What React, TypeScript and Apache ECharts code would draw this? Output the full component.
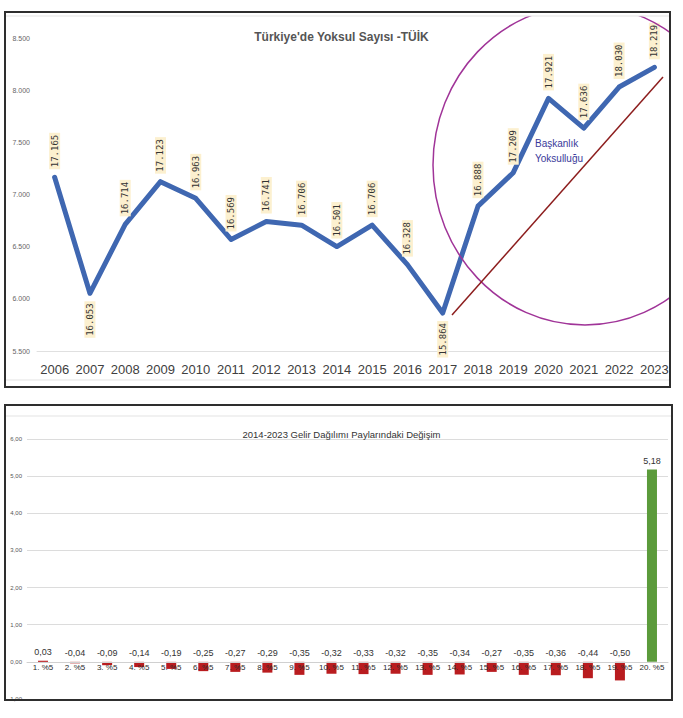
import React, { useEffect, useRef } from "react";
import * as echarts from "echarts";

// ---- Top chart data: Türkiye'de Yoksul Sayısı (milyon) ----
const years = ["2006","2007","2008","2009","2010","2011","2012","2013","2014","2015","2016","2017","2018","2019","2020","2021","2022","2023"];
const poorCount = [17.165,16.053,16.714,17.123,16.963,16.569,16.741,16.706,16.501,16.706,16.328,15.864,16.888,17.209,17.921,17.636,18.030,18.219];
const labelBelowYears = ["2007","2017"];

// ---- Bottom chart data: 2014-2023 Gelir Dağılımı Paylarındaki Değişim ----
const groups = ["1. %5","2. %5","3. %5","4. %5","5. %5","6. %5","7. %5","8. %5","9. %5","10. %5","11. %5","12. %5","13. %5","14. %5","15. %5","16. %5","17. %5","18. %5","19. %5","20. %5"];
const shareChange = [0.03,-0.04,-0.09,-0.14,-0.19,-0.25,-0.27,-0.29,-0.35,-0.32,-0.33,-0.32,-0.35,-0.34,-0.27,-0.35,-0.36,-0.44,-0.50,5.18];

const RED = "#b91c1f";
const GREEN = "#5b9b3b";
const LINE_BLUE = "#3f67b1";

const BOTTOM_MIN = -1;
const BOTTOM_MAX = 6;
const BOTTOM_TOP = 439;
const BOTTOM_BOTTOM = 699;

export default function App() {
  const ref = useRef<HTMLDivElement>(null);
  useEffect(() => {
    if (!ref.current) return;
    const chart = echarts.init(ref.current, undefined, { renderer: "svg" });

    const lineData = poorCount.map((v, i) =>
      labelBelowYears.includes(years[i])
        ? { value: v, label: { position: "bottom", align: "right" } }
        : v
    );
    const barData = shareChange.map((v, i) => ({
      value: v,
      itemStyle: { color: i === shareChange.length - 1 ? GREEN : RED },
    }));

    // distance from the bottom of the grid to the zero line, so the category axis sits on zero
    const zeroOffset = ((0 - BOTTOM_MIN) / (BOTTOM_MAX - BOTTOM_MIN)) * (BOTTOM_BOTTOM - BOTTOM_TOP);

    const option: any = {
      animation: false,
      backgroundColor: "#ffffff",
      title: [
        {
          text: "Türkiye'de Yoksul Sayısı -TÜİK",
          left: "center",
          top: 26,
          textStyle: { fontFamily: "Liberation Sans", fontSize: 12, fontWeight: "bold", color: "#555555" },
        },
        {
          text: "2014-2023 Gelir Dağılımı Paylarındaki Değişim",
          left: "center",
          top: 424,
          textStyle: { fontFamily: "Liberation Sans", fontSize: 9.5, fontWeight: "normal", color: "#333333" },
        },
      ],
      grid: [
        { left: 37, right: 11, top: 38, bottom: 718 - 351 },
        { left: 27, right: 15, top: BOTTOM_TOP, bottom: 718 - BOTTOM_BOTTOM },
      ],
      xAxis: [
        {
          type: "category",
          gridIndex: 0,
          data: years,
          boundaryGap: true,
          axisLine: { lineStyle: { color: "#e0e0e0" } },
          axisTick: { show: false },
          axisLabel: { fontFamily: "Liberation Sans", fontSize: 13, color: "#404040", margin: 12, interval: 0 },
        },
        {
          type: "category",
          gridIndex: 1,
          data: groups,
          boundaryGap: true,
          offset: -zeroOffset,
          axisLine: { onZero: false, lineStyle: { color: "#d0d0d0" } },
          axisTick: { show: false },
          axisLabel: { fontFamily: "Liberation Sans", fontSize: 8, color: "#2a2a2a", margin: 2, interval: 0 },
          z: 10,
        },
      ],
      yAxis: [
        {
          type: "value",
          gridIndex: 0,
          min: 15.5,
          max: 18.5,
          interval: 0.5,
          axisLine: { show: false },
          axisTick: { show: false },
          splitLine: { show: false },
          axisLabel: {
            fontFamily: "Liberation Sans",
            fontSize: 7,
            color: "#666666",
            margin: 7,
            formatter: (v: number) => v.toFixed(3).slice(1),
          },
        },
        {
          type: "value",
          gridIndex: 1,
          min: BOTTOM_MIN,
          max: BOTTOM_MAX,
          interval: 1,
          axisLine: { show: false },
          axisTick: { show: false },
          splitLine: { lineStyle: { color: "#dcdcdc" } },
          axisLabel: {
            fontFamily: "Liberation Sans",
            fontSize: 6,
            color: "#555555",
            margin: 5,
            formatter: (v: number) => v.toFixed(2).replace(".", ","),
          },
        },
      ],
      series: [
        {
          type: "line",
          xAxisIndex: 0,
          yAxisIndex: 0,
          data: lineData,
          symbol: "circle",
          symbolSize: 4,
          showSymbol: true,
          itemStyle: { color: LINE_BLUE },
          lineStyle: { color: LINE_BLUE, width: 5, join: "round", cap: "round" },
          label: {
            show: true,
            position: "top",
            distance: 6,
            rotate: 90,
            align: "left",
            verticalAlign: "middle",
            fontFamily: "DejaVu Sans Mono",
            fontSize: 9,
            color: "#333333",
            backgroundColor: "#fcf0cf",
            padding: [1, 2],
            formatter: (p: any) => Number(p.value).toFixed(3),
          },
          labelLayout: { hideOverlap: false },
          z: 3,
        },
        {
          type: "bar",
          xAxisIndex: 1,
          yAxisIndex: 1,
          data: barData,
          barWidth: 10,
          label: {
            show: true,
            position: "top",
            distance: 4,
            fontFamily: "Liberation Sans",
            fontSize: 9,
            color: "#333333",
            formatter: (p: any) => Number(p.value).toFixed(2).replace(".", ","),
          },
          z: 1,
        },
      ],
      graphic: [
        // annotation: purple ellipse around recent years
        {
          type: "ellipse",
          shape: { cx: 585, cy: 165, rx: 152, ry: 160 },
          style: { fill: "none", stroke: "#a03498", lineWidth: 1.5 },
          z: 10,
        },
        // annotation: dark red trend line
        {
          type: "line",
          shape: { x1: 452, y1: 315, x2: 663, y2: 77 },
          style: { stroke: "#8c1d1d", lineWidth: 1.5 },
          z: 10,
        },
        {
          type: "text",
          x: 535,
          y: 143,
          style: { text: "Başkanlık", fontFamily: "Liberation Sans", fontSize: 10, fill: "#3a3a9a", verticalAlign: "middle" },
          z: 10,
        },
        {
          type: "text",
          x: 535,
          y: 158,
          style: { text: "Yoksulluğu", fontFamily: "Liberation Sans", fontSize: 10, fill: "#3a3a9a", verticalAlign: "middle" },
          z: 10,
        },
        // white covers to clip the ellipse to the panel
        { type: "rect", shape: { x: 0, y: 0, width: 683, height: 16 }, style: { fill: "#ffffff" }, z: 20 },
        { type: "rect", shape: { x: 670, y: 0, width: 13, height: 400 }, style: { fill: "#ffffff" }, z: 20 },
        // inner light frame lines
        { type: "line", shape: { x1: 6, y1: 16, x2: 669, y2: 16 }, style: { stroke: "#e3e3e3", lineWidth: 1 }, z: 25 },
        { type: "line", shape: { x1: 6, y1: 380, x2: 669, y2: 380 }, style: { stroke: "#e3e3e3", lineWidth: 1 }, z: 25 },
        { type: "line", shape: { x1: 6, y1: 416, x2: 671, y2: 416 }, style: { stroke: "#e3e3e3", lineWidth: 1 }, z: 25 },
        // dark panel borders
        { type: "rect", shape: { x: 5, y: 12, width: 665, height: 375 }, style: { fill: "none", stroke: "#2e2e2e", lineWidth: 2 }, z: 30 },
        { type: "rect", shape: { x: 5, y: 405, width: 667, height: 295 }, style: { fill: "none", stroke: "#2e2e2e", lineWidth: 2 }, z: 30 },
      ],
    };

    chart.setOption(option);
    return () => chart.dispose();
  }, []);

  return (
    <div
      ref={ref}
      style={{ position: "fixed", left: 0, top: 0, width: 683, height: 718, background: "#fff" }}
    />
  );
}
